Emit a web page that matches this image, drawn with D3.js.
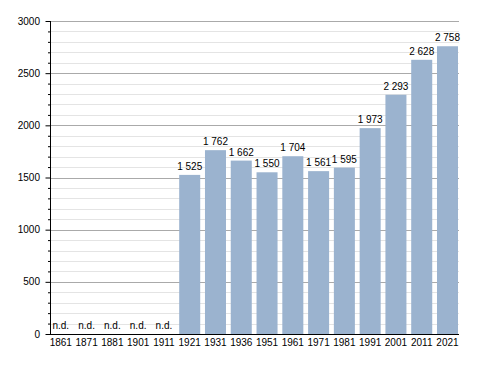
<!DOCTYPE html>
<html>
<head>
<meta charset="utf-8">
<script src="https://cdn.jsdelivr.net/npm/d3@7"></script>
<style>
	body { margin: 0; background: #fff; }
	svg text { font-family: "Liberation Sans", Arial, sans-serif; font-size: 10px; fill: #000; }
</style>
</head>
<body>
<div id="chart"></div>
<script>
	// census years and population (null = no data, "n.d.")
	var years = ["1861","1871","1881","1901","1911","1921","1931","1936","1951","1961","1971","1981","1991","2001","2011","2021"];
	var population = [null,null,null,null,null,1525,1762,1662,1550,1704,1561,1595,1973,2293,2628,2758];
	var yTicks = [0,500,1000,1500,2000,2500,3000];

	var w = 488, h = 373;

	var svg = d3.select("#chart")
		.append("svg")
		.attr("width", w)
		.attr("height", h);

	var x = d3.scaleBand()
		.domain(years)
		.range([50.3, 458])
		.paddingInner(0.185)
		.paddingOuter(0);

	var y = d3.scaleLinear()
		.domain([0, 3000])
		.range([334, 21]);

	var fmt = function(v) { return d3.format(",")(v).replace(/,/g, " "); };

	// minor grid every 100
	svg.append("g")
		.selectAll("line")
		.data(d3.range(100, 3000, 100).filter(function(v){ return v % 500 != 0; }))
		.enter()
		.append("line")
		.attr("x1", 50).attr("x2", 459)
		.attr("y1", function(d){ return Math.round(y(d)) + 0.5; })
		.attr("y2", function(d){ return Math.round(y(d)) + 0.5; })
		.style("stroke", "#e4e4e4");

	// major grid every 500
	svg.append("g")
		.selectAll("line")
		.data(yTicks.slice(1))
		.enter()
		.append("line")
		.attr("x1", 50).attr("x2", 459)
		.attr("y1", function(d){ return Math.round(y(d)) + 0.5; })
		.attr("y2", function(d){ return Math.round(y(d)) + 0.5; })
		.style("stroke", "#aaaaaa");

	// bars
	var data = years.map(function(yr, i) { return {year: yr, value: population[i]}; });

	svg.append("g")
		.selectAll("rect")
		.data(data.filter(function(d){ return d.value != null; }))
		.enter()
		.append("rect")
		.attr("x", function(d){ return x(d.year); })
		.attr("width", x.bandwidth())
		.attr("y", function(d){ return y(d.value); })
		.attr("height", function(d){ return y(0) - y(d.value); })
		.style("fill", "#9bb3cf");

	// value labels
	svg.append("g")
		.selectAll("text")
		.data(data)
		.enter()
		.append("text")
		.attr("x", function(d){ return x(d.year) + x.bandwidth() / 2; })
		.attr("y", function(d){ return d.value == null ? 329 : y(d.value) - 5; })
		.attr("text-anchor", "middle")
		.text(function(d){ return d.value == null ? "n.d." : fmt(d.value); });

	// y axis
	var yAxis = d3.axisLeft(y)
		.tickValues(d3.range(0, 3001, 100))
		.tickSize(2)
		.tickFormat("");
	var ya = svg.append("g").attr("transform", "translate(50.5,0)").call(yAxis);
	ya.select(".domain").remove();
	ya.selectAll(".tick line").attr("x2", function(d){ return d % 500 == 0 ? -5 : -2.5; }).style("stroke", "#000");

	svg.append("g")
		.selectAll("text")
		.data(yTicks)
		.enter()
		.append("text")
		.attr("x", 40)
		.attr("y", function(d){ return y(d) + 3.5; })
		.attr("text-anchor", "end")
		.text(function(d){ return d; });

	svg.append("line")
		.attr("x1", 50.5).attr("x2", 50.5)
		.attr("y1", 21).attr("y2", 334)
		.style("stroke", "#000");

	// x axis
	svg.append("line")
		.attr("x1", 50).attr("x2", 459)
		.attr("y1", 334.5).attr("y2", 334.5)
		.style("stroke", "#000");

	svg.append("g")
		.selectAll("text")
		.data(years)
		.enter()
		.append("text")
		.attr("x", function(d){ return x(d) + x.bandwidth() / 2; })
		.attr("y", 345.5)
		.attr("text-anchor", "middle")
		.text(function(d){ return d; });
</script>
</body>
</html>
